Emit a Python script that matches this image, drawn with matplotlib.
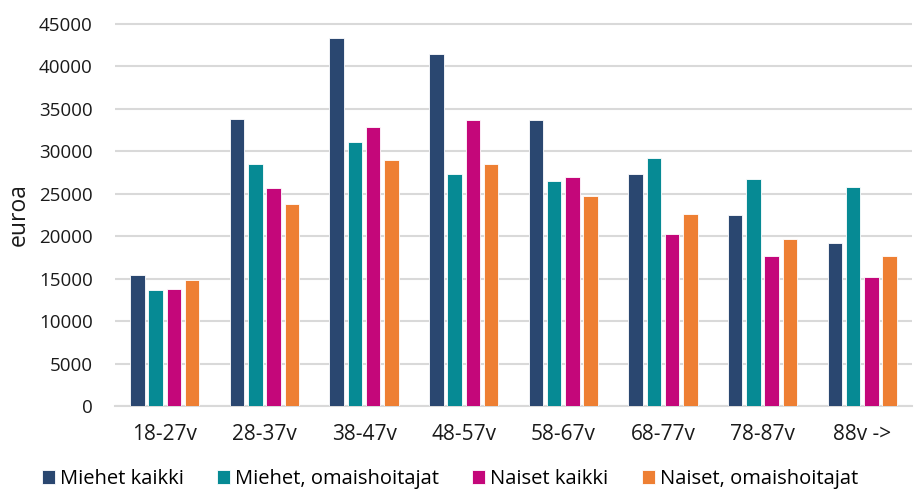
import numpy as np
import matplotlib.pyplot as plt

plt.rcParams['font.family'] = ['Open Sans', 'DejaVu Sans']

age_groups = ['18-27v', '28-37v', '38-47v', '48-57v', '58-67v', '68-77v', '78-87v', '88v ->']
series_names = ['Miehet kaikki', 'Miehet, omaishoitajat', 'Naiset kaikki', 'Naiset, omaishoitajat']

miehet_kaikki = [15380, 33810, 43320, 41470, 33650, 27290, 22450, 19150]
miehet_omaishoitajat = [13610, 28500, 31060, 27290, 26500, 29170, 26730, 25750]
naiset_kaikki = [13840, 25640, 32830, 33650, 27000, 20210, 17620, 15140]
naiset_omaishoitajat = [14860, 23750, 28940, 28470, 24760, 22600, 19660, 17620]

colors = ['#2A4770', '#068A94', '#C4077A', '#EE7F33']
series = [miehet_kaikki, miehet_omaishoitajat, naiset_kaikki, naiset_omaishoitajat]

fig = plt.figure(figsize=(9.14, 4.90), dpi=100)
ax = fig.add_axes([115 / 914, 1 - 406 / 490, 797 / 914, 383.7 / 490])

x = np.arange(len(age_groups))
step = 0.183
width = 0.145
for i, (vals, name, col) in enumerate(zip(series, series_names, colors)):
    ax.bar(x + (i - 1.5) * step, vals, width, color=col, label=name,
           edgecolor='white', linewidth=0.6, zorder=3)

ax.set_xlim(-0.5, 7.5)
ax.set_ylim(0, 45200)
ax.set_yticks(np.arange(0, 45001, 5000))
ax.set_xticks(x)
ax.set_xticklabels(age_groups)
ax.yaxis.grid(True, color='#D9D9D9', linewidth=1.5, zorder=0)
ax.set_axisbelow(True)

for s in ['top', 'right', 'left']:
    ax.spines[s].set_visible(False)
ax.spines['bottom'].set_color('#D9D9D9')
ax.spines['bottom'].set_linewidth(1.5)

ax.tick_params(axis='both', length=0, colors='#1a1a1a')
ax.tick_params(axis='x', pad=13, labelsize=15)
ax.tick_params(axis='y', pad=16, labelsize=13.5)
ax.set_ylabel('euroa', fontsize=16.5, color='#1a1a1a', labelpad=6)

fig.legend(loc='center', bbox_to_anchor=(450 / 914, 1 - 479 / 490), ncol=4, frameon=False,
           fontsize=14.5, handlelength=0.65, handleheight=0.65, handletextpad=0.25,
           columnspacing=1.65, borderaxespad=0)

fig.savefig('out.png', dpi=100)
